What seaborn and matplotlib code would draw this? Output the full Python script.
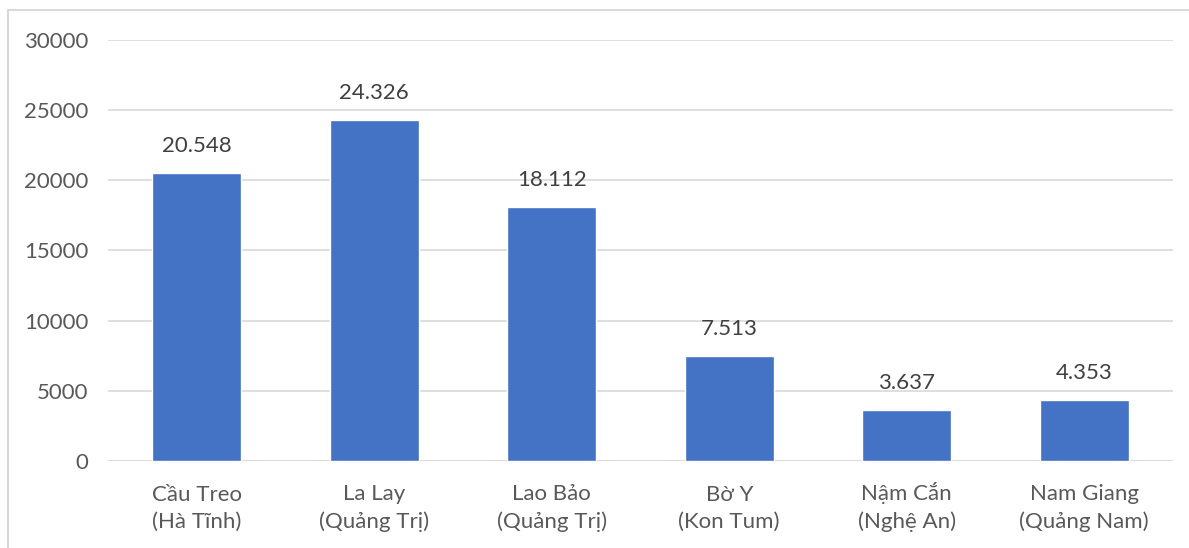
import numpy as np
import pandas as pd
import seaborn as sns
import matplotlib.pyplot as plt
from matplotlib.patches import Rectangle

# dữ liệu
cua_khau = ["Cầu Treo\n(Hà Tĩnh)", "La Lay\n(Quảng Trị)", "Lao Bảo\n(Quảng Trị)",
            "Bờ Y\n(Kon Tum)", "Nậm Cắn\n(Nghệ An)", "Nam Giang\n(Quảng Nam)"]
gia_tri = [20548, 24326, 18112, 7513, 3637, 4353]
y_ticks = [0, 5000, 10000, 15000, 20000, 25000, 30000]

df = pd.DataFrame({"cua_khau": cua_khau, "gia_tri": gia_tri})

sns.set_style("white")
plt.rcParams["font.family"] = ["Lato", "DejaVu Sans"]

fig = plt.figure(figsize=(11.89, 5.48), dpi=100)
ax = fig.add_axes([108 / 1189, 87 / 548, 1065 / 1189, 421 / 548])

sns.barplot(data=df, x="cua_khau", y="gia_tri", color="#4472C4",
            saturation=1, width=0.5, ax=ax, zorder=3)

ax.set_ylim(0, 30000)
ax.set_xlim(-0.5, len(cua_khau) - 0.5)
ax.set_yticks(y_ticks)
ax.set_yticklabels([str(v) for v in y_ticks])
ax.yaxis.grid(True, color="#D9D9D9", linewidth=1.2, zorder=0)
ax.set_axisbelow(True)
for s in ax.spines.values():
    s.set_visible(False)
ax.axhline(0, color="#D9D9D9", linewidth=1.2, zorder=1)

ax.tick_params(axis="y", length=0, pad=14, labelsize=16, labelcolor="#595959")
ax.tick_params(axis="x", length=0, pad=48, labelsize=16, labelcolor="#595959")
for t in ax.get_xticklabels():
    t.set_verticalalignment("baseline")
    t.set_linespacing(1.4)
ax.set_xlabel("")
ax.set_ylabel("")

# nhãn giá trị trên cột
for i, v in enumerate(gia_tri):
    ax.annotate(f"{v:,}".replace(",", "."), (i, v), xytext=(0, 12),
                textcoords="offset points", ha="center", va="bottom",
                fontsize=16, color="#404040")

# khung viền của biểu đồ
fig.patches.append(Rectangle((8 / 1189, -0.1), 1.2, 0.1 + 538 / 548,
                             transform=fig.transFigure, fill=False,
                             edgecolor="#D9D9D9", linewidth=1.5))

plt.savefig("out.png", dpi=100)
